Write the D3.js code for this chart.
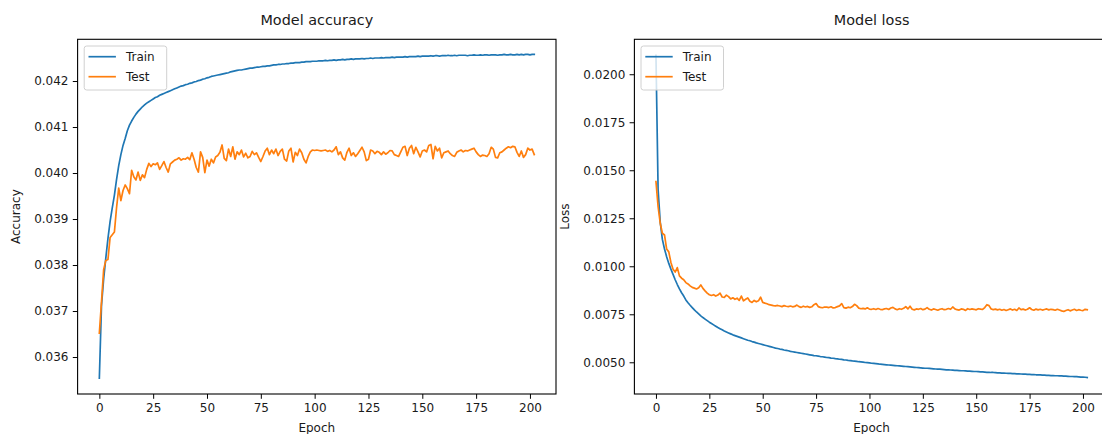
<!DOCTYPE html>
<html>
<head>
<meta charset="utf-8">
<script src="https://cdn.jsdelivr.net/npm/d3@7"></script>
<style>
  html, body { margin: 0; padding: 0; background: #fff; }
  svg { display: block; font-family: "DejaVu Sans", sans-serif; }
</style>
</head>
<body>
<svg id="chart" width="1102" height="434"></svg>
<script>
// ---------------- data ----------------
const seriesNames = ["Train", "Test"];
const epochTicks = [0, 25, 50, 75, 100, 125, 150, 175, 200];
const accTicks = [0.036, 0.037, 0.038, 0.039, 0.040, 0.041, 0.042];
const lossTicks = [0.005, 0.0075, 0.01, 0.0125, 0.015, 0.0175, 0.02];

const trainAcc = [
0.03554,0.03712,0.03770,0.03815,0.03858,0.03895,0.03924,0.03952,0.03986,0.04016,
0.04040,0.04060,0.04075,0.04092,0.04104,0.04113,0.04121,0.04128,0.04134,0.04139,
0.04144,0.04148,0.04152,0.04155,0.04158,0.04161,0.04164,0.04166,0.04169,0.04171,
0.04173,0.04175,0.04177,0.04179,0.04181,0.04183,0.04185,0.04187,0.04189,0.04190,
0.04192,0.04193,0.04195,0.04196,0.04198,0.04199,0.04201,0.04202,0.04204,0.04205,
0.04207,0.04208,0.04210,0.04211,0.04212,0.04213,0.04214,0.04215,0.04216,0.04217,
0.04218,0.04220,0.04221,0.04222,0.04223,0.04224,0.04224,0.04225,0.04226,0.04227,
0.04228,0.04228,0.04229,0.04230,0.04230,0.04231,0.04232,0.04232,0.04233,0.04233,
0.04234,0.04235,0.04235,0.04236,0.04236,0.04237,0.04237,0.04238,0.04238,0.04239,
0.04239,0.04240,0.04240,0.04240,0.04241,0.04241,0.04242,0.04242,0.04242,0.04243,
0.04243,0.04243,0.04244,0.04244,0.04244,0.04245,0.04244,0.04245,0.04245,0.04246,
0.04245,0.04246,0.04246,0.04247,0.04246,0.04247,0.04247,0.04248,0.04247,0.04248,
0.04248,0.04248,0.04249,0.04248,0.04249,0.04249,0.04250,0.04249,0.04250,0.04250,
0.04250,0.04251,0.04250,0.04251,0.04251,0.04251,0.04252,0.04251,0.04252,0.04252,
0.04252,0.04252,0.04253,0.04252,0.04253,0.04253,0.04253,0.04253,0.04254,0.04253,
0.04254,0.04254,0.04254,0.04254,0.04255,0.04254,0.04255,0.04255,0.04254,0.04255,
0.04255,0.04255,0.04256,0.04255,0.04255,0.04256,0.04255,0.04256,0.04256,0.04256,
0.04256,0.04255,0.04256,0.04256,0.04257,0.04256,0.04256,0.04257,0.04256,0.04257,
0.04257,0.04256,0.04257,0.04257,0.04257,0.04256,0.04257,0.04257,0.04258,0.04257,
0.04257,0.04258,0.04257,0.04257,0.04258,0.04257,0.04258,0.04257,0.04258,0.04258,
0.04257,0.04258,0.04258
];

const testAcc = [
0.03652,0.03720,0.03790,0.03810,0.03812,0.03860,0.03866,0.03872,0.03925,0.03967,
0.03940,0.03962,0.03974,0.03966,0.03955,0.04006,0.03992,0.03985,0.04002,0.03984,
0.03996,0.03990,0.04008,0.04021,0.04014,0.04020,0.04018,0.04022,0.04008,0.04016,
0.04025,0.04012,0.04002,0.04020,0.04024,0.04028,0.04030,0.04033,0.04028,0.04031,
0.04030,0.04034,0.04029,0.04044,0.04030,0.04012,0.04002,0.04046,0.04034,0.04001,
0.04028,0.04015,0.04030,0.04022,0.04035,0.04038,0.04045,0.04061,0.04032,0.04027,
0.04052,0.04036,0.04057,0.04030,0.04046,0.04040,0.04050,0.04035,0.04043,0.04033,
0.04036,0.04047,0.04040,0.04044,0.04034,0.04025,0.04036,0.04048,0.04054,0.04040,
0.04050,0.04042,0.04052,0.04038,0.04047,0.04052,0.04030,0.04026,0.04048,0.04054,
0.04024,0.04045,0.04038,0.04052,0.04044,0.04030,0.04022,0.04036,0.04046,0.04050,
0.04049,0.04050,0.04049,0.04048,0.04049,0.04050,0.04047,0.04049,0.04046,0.04050,
0.04057,0.04040,0.04046,0.04033,0.04028,0.04045,0.04054,0.04038,0.04044,0.04036,
0.04042,0.04049,0.04056,0.04046,0.04027,0.04030,0.04050,0.04048,0.04042,0.04047,
0.04045,0.04040,0.04046,0.04041,0.04044,0.04049,0.04048,0.04040,0.04038,0.04036,
0.04046,0.04056,0.04058,0.04038,0.04054,0.04060,0.04042,0.04056,0.04046,0.04035,
0.04048,0.04050,0.04046,0.04060,0.04062,0.04031,0.04058,0.04048,0.04054,0.04033,
0.04044,0.04046,0.04048,0.04042,0.04038,0.04036,0.04045,0.04048,0.04050,0.04046,
0.04049,0.04048,0.04050,0.04052,0.04054,0.04046,0.04040,0.04036,0.04039,0.04038,
0.04036,0.04042,0.04056,0.04052,0.04034,0.04033,0.04044,0.04046,0.04050,0.04054,
0.04057,0.04055,0.04058,0.04057,0.04045,0.04036,0.04048,0.04034,0.04040,0.04054,
0.04050,0.04052,0.04040
];

const trainLoss = [
0.02098,0.01400,0.01230,0.01140,0.01090,0.01050,0.01015,0.00985,0.00958,0.00930,
0.00905,0.00882,0.00862,0.00845,0.00825,0.00810,0.00797,0.00785,0.00773,0.00762,
0.00752,0.00742,0.00733,0.00725,0.00717,0.00709,0.00702,0.00695,0.00688,0.00681,
0.00675,0.00669,0.00663,0.00658,0.00653,0.00648,0.00643,0.00639,0.00635,0.00631,
0.00627,0.00623,0.00619,0.00615,0.00612,0.00608,0.00605,0.00601,0.00598,0.00595,
0.00592,0.00589,0.00586,0.00583,0.00580,0.00577,0.00574,0.00572,0.00569,0.00567,
0.00564,0.00562,0.00560,0.00557,0.00555,0.00553,0.00551,0.00549,0.00547,0.00545,
0.00543,0.00541,0.00539,0.00537,0.00535,0.00534,0.00532,0.00530,0.00529,0.00527,
0.00525,0.00524,0.00522,0.00521,0.00519,0.00518,0.00516,0.00515,0.00513,0.00512,
0.00510,0.00509,0.00507,0.00506,0.00505,0.00503,0.00502,0.00501,0.00499,0.00498,
0.00497,0.00495,0.00494,0.00493,0.00492,0.00490,0.00489,0.00488,0.00487,0.00486,
0.00485,0.00484,0.00483,0.00482,0.00481,0.00480,0.00479,0.00478,0.00477,0.00476,
0.00475,0.00474,0.00473,0.00472,0.00471,0.00470,0.00469,0.00469,0.00468,0.00467,
0.00466,0.00465,0.00464,0.00464,0.00463,0.00462,0.00461,0.00461,0.00460,0.00459,
0.00458,0.00458,0.00457,0.00456,0.00456,0.00455,0.00454,0.00454,0.00453,0.00452,
0.00452,0.00451,0.00450,0.00450,0.00449,0.00448,0.00448,0.00447,0.00447,0.00446,
0.00445,0.00445,0.00444,0.00444,0.00443,0.00442,0.00442,0.00441,0.00441,0.00440,
0.00440,0.00439,0.00438,0.00438,0.00437,0.00437,0.00436,0.00436,0.00435,0.00435,
0.00434,0.00433,0.00433,0.00432,0.00432,0.00431,0.00431,0.00430,0.00430,0.00429,
0.00429,0.00428,0.00428,0.00427,0.00426,0.00426,0.00425,0.00425,0.00424,0.00423,
0.00423,0.00422,0.00421
];

const testLoss = [
0.01441,0.01310,0.01224,0.01172,0.01163,0.01090,0.01075,0.01020,0.00985,0.00970,
0.00993,0.00950,0.00938,0.00930,0.00915,0.00908,0.00898,0.00890,0.00886,0.00882,
0.00888,0.00903,0.00885,0.00872,0.00860,0.00852,0.00848,0.00852,0.00845,0.00850,
0.00860,0.00840,0.00838,0.00850,0.00842,0.00830,0.00836,0.00828,0.00834,0.00822,
0.00845,0.00820,0.00828,0.00835,0.00818,0.00812,0.00822,0.00815,0.00820,0.00839,
0.00812,0.00808,0.00805,0.00800,0.00798,0.00795,0.00794,0.00796,0.00793,0.00790,
0.00795,0.00792,0.00790,0.00793,0.00789,0.00791,0.00798,0.00790,0.00786,0.00792,
0.00788,0.00791,0.00786,0.00789,0.00800,0.00806,0.00790,0.00786,0.00784,0.00788,
0.00787,0.00785,0.00789,0.00783,0.00785,0.00790,0.00794,0.00806,0.00785,0.00782,
0.00787,0.00784,0.00790,0.00802,0.00795,0.00782,0.00779,0.00781,0.00778,0.00784,
0.00777,0.00776,0.00779,0.00775,0.00780,0.00776,0.00774,0.00778,0.00780,0.00775,
0.00783,0.00786,0.00778,0.00774,0.00779,0.00776,0.00781,0.00790,0.00778,0.00792,
0.00776,0.00773,0.00778,0.00776,0.00780,0.00774,0.00777,0.00785,0.00776,0.00772,
0.00778,0.00775,0.00771,0.00776,0.00779,0.00774,0.00776,0.00780,0.00776,0.00788,
0.00778,0.00774,0.00772,0.00778,0.00776,0.00770,0.00779,0.00775,0.00778,0.00776,
0.00773,0.00779,0.00777,0.00775,0.00785,0.00800,0.00795,0.00778,0.00774,0.00777,
0.00773,0.00776,0.00771,0.00775,0.00770,0.00774,0.00778,0.00772,0.00776,0.00770,
0.00783,0.00774,0.00777,0.00772,0.00776,0.00784,0.00775,0.00771,0.00777,0.00773,
0.00776,0.00772,0.00775,0.00778,0.00773,0.00776,0.00774,0.00771,0.00776,0.00772,
0.00768,0.00765,0.00770,0.00774,0.00768,0.00772,0.00776,0.00770,0.00774,0.00771,
0.00769,0.00776,0.00774
];

// ---------------- drawing ----------------
const colors = ["#1f77b4", "#ff7f0e"];
const svg = d3.select("#chart");
svg.append("rect").attr("width", 1102).attr("height", 434).attr("fill", "#fff");

const FS = 12;
const TEXT = "#1a1a1a";

function panel(cfg) {
  const x = d3.scaleLinear().domain([-10.1, 212.1]).range([cfg.x0, cfg.x1]);
  const y = d3.scaleLinear().domain(cfg.yDomain).range([cfg.y1, cfg.y0]);
  const g = svg.append("g");

  const clipId = "clip" + cfg.id;
  svg.append("clipPath").attr("id", clipId)
    .append("rect").attr("x", cfg.x0).attr("y", cfg.y0)
    .attr("width", cfg.x1 - cfg.x0).attr("height", cfg.y1 - cfg.y0);

  const line = d3.line().x((d, i) => x(i)).y(d => y(d));
  const lines = g.append("g").attr("clip-path", `url(#${clipId})`);
  cfg.series.forEach((s, k) => {
    lines.append("path").datum(s)
      .attr("d", line)
      .attr("fill", "none")
      .attr("stroke", colors[k])
      .attr("stroke-width", 1.7)
      .attr("stroke-linejoin", "round")
      .attr("stroke-linecap", "square");
  });

  // axes
  const xAxis = d3.axisBottom(x).tickValues(epochTicks).tickSize(4.8).tickPadding(4.3)
    .tickFormat(d3.format("d"));
  const yAxis = d3.axisLeft(y).tickValues(cfg.yTicks).tickSize(4.8).tickPadding(4.3)
    .tickFormat(d3.format(cfg.fmt));
  const gx = g.append("g").attr("transform", `translate(0,${cfg.y1})`).call(xAxis);
  const gy = g.append("g").attr("transform", `translate(${cfg.x0},0)`).call(yAxis);
  [gx, gy].forEach(a => {
    a.select(".domain").remove();
    a.selectAll(".tick line").attr("stroke", "#000").attr("stroke-width", 1);
    a.selectAll(".tick text").attr("fill", TEXT)
      .style("font-family", "DejaVu Sans").style("font-size", FS + "px");
  });

  // frame
  g.append("rect")
    .attr("x", cfg.x0).attr("y", cfg.y0)
    .attr("width", cfg.x1 - cfg.x0).attr("height", cfg.y1 - cfg.y0)
    .attr("fill", "none").attr("stroke", "#000").attr("stroke-width", 1.1);

  // title
  const cx = (cfg.x0 + cfg.x1) / 2;
  g.append("text").attr("x", cx).attr("y", 25).attr("text-anchor", "middle")
    .attr("fill", TEXT).style("font-size", "14.4px").text(cfg.title);
  // x label
  g.append("text").attr("x", cx).attr("y", 432).attr("text-anchor", "middle")
    .attr("fill", TEXT).style("font-size", FS + "px").text("Epoch");
  // y label
  const cy = (cfg.y0 + cfg.y1) / 2;
  g.append("text")
    .attr("transform", `translate(${cfg.ylabX},${cy}) rotate(-90)`)
    .attr("text-anchor", "middle").attr("fill", TEXT)
    .style("font-size", FS + "px").text(cfg.ylabel);

  // legend
  const lx = cfg.x0 + 6.6, ly = 46;
  const leg = g.append("g");
  leg.append("rect").attr("x", lx).attr("y", ly).attr("width", 82.5).attr("height", 44)
    .attr("rx", 2.5).attr("fill", "#fff").attr("fill-opacity", 0.8)
    .attr("stroke", "#d0d0d0").attr("stroke-width", 1);
  seriesNames.forEach((name, k) => {
    const yy = ly + 10.7 + k * 20;
    leg.append("line").attr("x1", lx + 4.3).attr("x2", lx + 31.7)
      .attr("y1", yy).attr("y2", yy)
      .attr("stroke", colors[k]).attr("stroke-width", 1.7);
    leg.append("text").attr("x", lx + 41.7).attr("y", yy).attr("dy", "0.36em")
      .attr("fill", TEXT).style("font-size", FS + "px").text(name);
  });
}

panel({
  id: "acc", x0: 77.6, x1: 556.0, y0: 39.3, y1: 394,
  yDomain: [0.035196, 0.042907], yTicks: accTicks, fmt: ".3f",
  title: "Model accuracy", ylabel: "Accuracy", ylabX: 20,
  series: [trainAcc, testAcc]
});
panel({
  id: "loss", x0: 634.4, x1: 1108.8, y0: 39.3, y1: 394,
  yDomain: [0.003349, 0.02182], yTicks: lossTicks, fmt: ".4f",
  title: "Model loss", ylabel: "Loss", ylabX: 569,
  series: [trainLoss, testLoss]
});
</script>
</body>
</html>
